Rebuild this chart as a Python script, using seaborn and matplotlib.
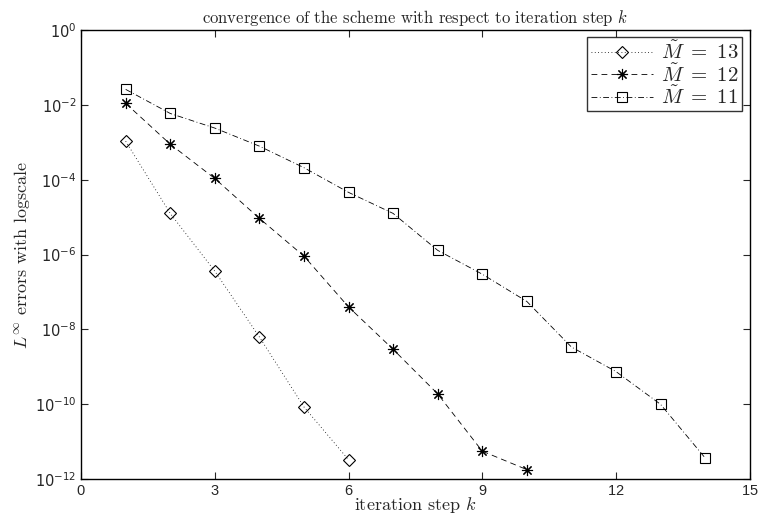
import numpy as np
import pandas as pd
import seaborn as sns
import matplotlib
matplotlib.use("Agg")
from matplotlib import pyplot as plt
from matplotlib import ticker

# errors
k13 = [1, 2, 3, 4, 5, 6]
err13 = [1.07e-3, 1.26e-5, 3.6e-7, 6.3e-9, 8.5e-11, 3.3e-12]
k12 = [1, 2, 3, 4, 5, 6, 7, 8, 9, 10]
err12 = [1.1e-2, 8.9e-4, 1.08e-4, 9.3e-6, 9.1e-7, 4.0e-8, 2.95e-9, 1.9e-10, 5.6e-12, 1.8e-12]
k11 = [1, 2, 3, 4, 5, 6, 7, 8, 9, 10, 11, 12, 13, 14]
err11 = [2.6e-2, 5.9e-3, 2.4e-3, 7.9e-4, 2.1e-4, 4.6e-5, 1.26e-5, 1.3e-6, 3.0e-7,
         5.6e-8, 3.4e-9, 7.5e-10, 1.0e-10, 3.7e-12]
labels = [r'$\tilde{M}\ =\ 13$', r'$\tilde{M}\ =\ 12$', r'$\tilde{M}\ =\ 11$']
xticks = [0, 3, 6, 9, 12, 15]
yticks = [1e0, 1e-2, 1e-4, 1e-6, 1e-8, 1e-10, 1e-12]

sns.set_style("ticks")
plt.rcParams['mathtext.fontset'] = 'cm'
plt.rcParams['font.family'] = ['cmr10', 'DejaVu Serif']
plt.rcParams['axes.formatter.use_mathtext'] = True
plt.rcParams['xtick.direction'] = 'in'
plt.rcParams['ytick.direction'] = 'in'

fig = plt.figure(figsize=(7.58, 5.18), dpi=100)
ax = fig.add_axes([0.107, 0.075, 0.882, 0.867])

# (k, err, dash pattern, marker, size)
series = [
    (k13, err13, (0, (1, 3)), 'D', 6),
    (k12, err12, (0, (7, 5)), (8, 2, 0), 8),
    (k11, err11, (0, (7, 3, 1, 3)), 's', 6.5),
]
for (k, e, ls, mk, ms), lab in zip(series, labels):
    df = pd.DataFrame({'k': k, 'err': e})
    sns.lineplot(data=df, x='k', y='err', ax=ax, color='black', linestyle=ls,
                 linewidth=0.6, marker=mk, markersize=ms,
                 markerfacecolor='none', markeredgecolor='black',
                 markeredgewidth=0.8, label=lab)

ax.set_yscale('log')
ax.set_xlim(0, 15)
ax.set_ylim(1e-12, 1e0)
ax.xaxis.set_major_locator(ticker.FixedLocator(xticks))
ax.yaxis.set_major_locator(ticker.FixedLocator(yticks))
ax.yaxis.set_minor_locator(ticker.NullLocator())
ax.yaxis.set_major_formatter(ticker.FuncFormatter(lambda v, p: r'$10^{%d}$' % round(np.log10(v))))
ax.tick_params(which='both', top=True, right=True, length=5, width=0.8, labelsize=10.5)
for s in ax.spines.values():
    s.set_linewidth(1.0)
    s.set_color('black')

ax.set_title(r'convergence of the scheme with respect to iteration step $k$', fontsize=12, pad=5)
ax.set_xlabel(r'iteration step $k$', fontsize=13, labelpad=-2)
ax.set_ylabel(r'$L^{\infty}$ errors with logscale', fontsize=13, labelpad=2)

leg = ax.legend(loc='upper right', fontsize=15, frameon=True, fancybox=False,
                handlelength=3.0, borderaxespad=0.35, borderpad=0.15,
                labelspacing=0.0, handletextpad=0.4)
leg.get_frame().set_edgecolor('black')
leg.get_frame().set_linewidth(1.0)

fig.canvas.draw()
for t in ax.get_xticklabels() + ax.get_yticklabels():
    t.set_fontfamily(['Liberation Sans', 'DejaVu Sans'])
    t.set_math_fontfamily('dejavusans')

fig.savefig('out.png', dpi=100)
